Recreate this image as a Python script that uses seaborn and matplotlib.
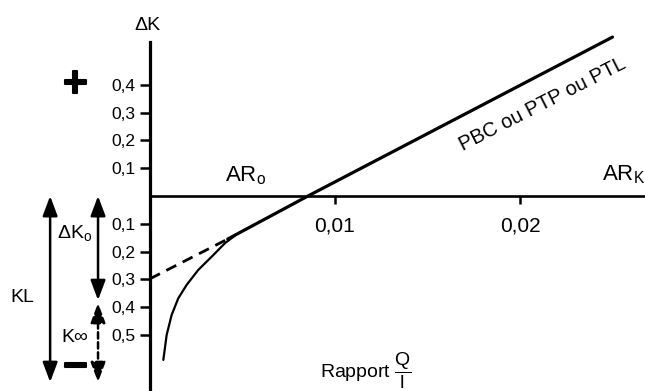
import matplotlib
matplotlib.use('Agg')
import matplotlib.pyplot as plt
import seaborn as sns
from matplotlib import patheffects

# ---- values ----
# straight law "PBC ou PTP ou PTL"
line_x = [0.0042, 0.00854, 0.025]
line_y = [-0.155, 0.0, 0.572]
# dashed extrapolation to the ΔK axis
dash_x = [0.0, 0.0042]
dash_y = [-0.298, -0.155]
# real curve near the origin
curve_x = [0.00072, 0.0009, 0.00117, 0.00153, 0.00198, 0.00261, 0.00334, 0.00405, 0.0046]
curve_y = [-0.590, -0.500, -0.428, -0.368, -0.320, -0.266, -0.218, -0.170, -0.142]

x_ticks = [0.01, 0.02]
x_labels = ["0,01", "0,02"]
y_ticks = [-0.5, -0.4, -0.3, -0.2, -0.1, 0.1, 0.2, 0.3, 0.4]
y_labels = ["0,5", "0,4", "0,3", "0,2", "0,1", "0,1", "0,2", "0,3", "0,4"]

# levels of the side arrows
dk0_level = -0.375
kl_level = -0.67
y_axis_top = 0.554

sns.set_style("white")
plt.rcParams['font.family'] = ['Liberation Sans', 'DejaVu Sans']
plt.rcParams['mathtext.fontset'] = 'custom'
plt.rcParams['mathtext.rm'] = 'Liberation Sans'
plt.rcParams['mathtext.it'] = 'Liberation Sans:italic'
plt.rcParams['mathtext.bf'] = 'Liberation Sans:bold'
plt.rcParams['text.color'] = 'black'

fig = plt.figure(figsize=(6.45, 3.91), dpi=100)
ax = fig.add_axes([0, 0, 1, 1])

sns.lineplot(x=line_x, y=line_y, ax=ax, color="black", linewidth=2.3, estimator=None)
sns.lineplot(x=dash_x, y=dash_y, ax=ax, color="black", linewidth=2.0, estimator=None,
             linestyle=(0, (4, 2.6)))
sns.lineplot(x=curve_x, y=curve_y, ax=ax, color="black", linewidth=1.6, estimator=None, sort=False)

ax.set_xlim(-0.00811, 0.02676)
ax.set_ylim(-0.702, 0.7056)

# axes through the origin
for s in ["top", "right"]:
    ax.spines[s].set_visible(False)
ax.spines["left"].set_position(("data", 0))
ax.spines["bottom"].set_position(("data", 0))
ax.spines["left"].set_bounds(-0.702, y_axis_top)
ax.spines["bottom"].set_bounds(0, 0.02676)
ax.spines["left"].set_linewidth(2.3)
ax.spines["bottom"].set_linewidth(1.9)
ax.spines["left"].set_color("black")
ax.spines["bottom"].set_color("black")

ax.set_xticks(x_ticks)
ax.set_xticklabels(x_labels, fontsize=15)
ax.set_yticks(y_ticks)
ax.set_yticklabels(y_labels, fontsize=12.5)
ax.tick_params(axis="y", left=True, direction="out", length=7.5, width=1.8, pad=3,
               colors="black", labelcolor="black")
ax.tick_params(axis="x", bottom=True, direction="out", length=6, width=1.8, pad=9,
               colors="black", labelcolor="black")

# labels
ax.text(-0.00016, 0.615, "ΔK", fontsize=14, ha="center", va="center")
ax.text(0.00519, 0.072, r"AR$_{\mathrm{o}}$", fontsize=16, ha="center", va="center")
ax.text(0.02443, 0.076, r"AR$_{\mathrm{K}}$", fontsize=16, ha="left", va="center")
ax.text(0.02124, 0.33, "PBC ou PTP ou PTL", fontsize=14.5, rotation=27,
        rotation_mode="anchor", ha="center", va="center")
ax.text(0.00919, -0.63, r"Rapport $\dfrac{\mathrm{Q}}{\mathrm{l}}$", fontsize=14,
        ha="left", va="center")

# signs
plus = ax.text(-0.00405, 0.40, "+", fontsize=30, fontweight="bold", ha="center", va="center")
minus = ax.text(-0.00405, -0.619, "−", fontsize=30, fontweight="bold", ha="center", va="center")
for t in (plus, minus):
    t.set_path_effects([patheffects.withStroke(linewidth=1.5, foreground="black")])

# side arrows
head = "<|-|>,head_length=0.8,head_width=0.3"
ax.annotate("", xy=(-0.0054, 0), xytext=(-0.0054, kl_level),
            arrowprops=dict(arrowstyle=head, mutation_scale=15, lw=1.8, color="black",
                            shrinkA=0, shrinkB=0))
ax.annotate("", xy=(-0.00281, 0), xytext=(-0.00281, dk0_level),
            arrowprops=dict(arrowstyle=head, mutation_scale=15, lw=1.8, color="black",
                            shrinkA=0, shrinkB=0))
ax.annotate("", xy=(-0.00281, dk0_level - 0.01), xytext=(-0.00281, kl_level),
            arrowprops=dict(arrowstyle=head, mutation_scale=15, lw=1.8, color="black",
                            linestyle=(0, (2.5, 1.5)), shrinkA=0, shrinkB=0))
ax.text(-0.00692, -0.367, "KL", fontsize=14, ha="center", va="center")
ax.text(-0.00503, -0.133, r"ΔK$_{\mathrm{o}}$", fontsize=14, ha="left", va="center")
ax.text(-0.00481, -0.508, "K∞", fontsize=14, ha="left", va="center")

fig.savefig("out.png", dpi=100)
